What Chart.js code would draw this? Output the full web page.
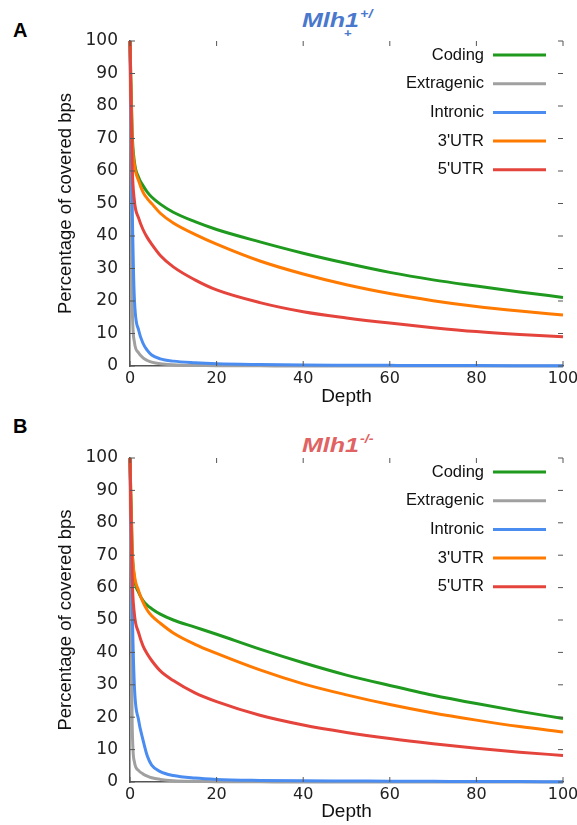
<!DOCTYPE html>
<html>
<head>
<meta charset="utf-8">
<script src="https://cdn.jsdelivr.net/npm/chart.js@4.4.1/dist/chart.umd.min.js"></script>
<style>
  body { margin: 0; background: #fff; width: 577px; height: 825px; position: relative; overflow: hidden; font-family: "Liberation Sans", Arial, sans-serif; }
  canvas { position: absolute; left: 0; }
  .panel { position: absolute; font-weight: bold; font-size: 20px; line-height: 20px; color: #000; }
  .title { position: absolute; font-weight: bold; font-style: italic; font-size: 20px; line-height: 20px; white-space: nowrap; transform: scaleX(1.25); transform-origin: left top; }
  .sup { position: absolute; font-weight: bold; font-style: italic; font-size: 12px; line-height: 12px; white-space: nowrap; transform: scaleX(1.2); transform-origin: left top; }
</style>
</head>
<body>
<div class="panel" style="left:13px; top:20px;">A</div>
<div class="title" style="left:302px; top:10px; color:#4a78cc;">Mlh1</div>
<div class="sup" style="left:360px; top:8px; color:#4a78cc;">+/</div>
<div class="sup" style="left:344px; top:27px; color:#4a78cc; font-style:normal; font-size:11px;">+</div>
<div class="panel" style="left:13px; top:416px;">B</div>
<div class="title" style="left:302px; top:435px; color:#e06262;">Mlh1</div>
<div class="sup" style="left:360px; top:433px; color:#e06262;">-/-</div>
<canvas id="chartA" width="577" height="412" style="top:0px;"></canvas>
<canvas id="chartB" width="577" height="413" style="top:412px;"></canvas>
<script>
var depth = [0, 0.5, 1, 2, 3, 4, 5, 7, 10, 15, 20, 30, 40, 50, 60, 70, 80, 90, 100];
var labels = ["Coding", "Extragenic", "Intronic", "3'UTR", "5'UTR"];
var colors = ["#1f9a1f", "#a0a0a0", "#4a8cf0", "#ff7a00", "#e4443c"];

// panel A - Mlh1+/+
var codingA     = [100, 72, 63, 58, 55.5, 53.5, 52, 49.8, 47.3, 44.4, 42, 38.2, 34.7, 31.6, 28.8, 26.5, 24.6, 22.8, 21.1];
var extragenicA = [100, 20, 7.5, 4, 2.5, 1.7, 1.2, 0.7, 0.4, 0.2, 0.1, 0.05, 0, 0, 0, 0, 0, 0, 0];
var intronicA   = [100, 50, 21, 11, 7, 4.8, 3.4, 2.2, 1.5, 1.0, 0.7, 0.45, 0.3, 0.25, 0.2, 0.15, 0.12, 0.1, 0.1];
var utr3A       = [100, 70, 62, 57, 53.5, 51.5, 50, 47, 44, 40.5, 37.5, 32.3, 28.3, 25, 22.3, 20.1, 18.3, 16.9, 15.7];
var utr5A       = [100, 62, 51, 45.5, 42, 39.5, 37.5, 34, 30.5, 26.5, 23.4, 19.5, 16.7, 14.8, 13.2, 11.8, 10.6, 9.7, 9.0];

// panel B - Mlh1-/-
var codingB     = [100, 72, 63, 58.5, 56, 54.5, 53.5, 51.8, 50, 47.8, 45.6, 41, 36.8, 33, 29.8, 26.8, 24.2, 21.8, 19.6];
var extragenicB = [100, 18, 6.3, 3.5, 2.5, 1.8, 1.3, 0.8, 0.4, 0.2, 0.1, 0.05, 0, 0, 0, 0, 0, 0, 0];
var intronicB   = [100, 55, 30, 19, 13, 8, 5.2, 3.2, 2, 1.2, 0.8, 0.5, 0.35, 0.3, 0.25, 0.2, 0.15, 0.12, 0.1];
var utr3B       = [100, 72, 64, 59, 55.5, 53, 51.3, 49, 46, 42.5, 39.7, 34.6, 30.3, 26.9, 23.9, 21.3, 19.1, 17.1, 15.4];
var utr5B       = [100, 63, 52, 46, 42, 39.5, 37.5, 34.3, 31.3, 27.5, 24.8, 20.6, 17.6, 15.3, 13.4, 11.8, 10.4, 9.2, 8.2];

var drawOrder = [2, 4, 3, 1, 0];

function toPoints(vals) {
  let pts = [];
  for (let i = 0; i < depth.length; i++) {
    pts.push({ x: depth[i], y: vals[i] });
  }
  return pts;
}

// legend inside the plot (label left, line right) + inward tick marks
const decor = {
  id: 'decor',
  afterDraw(chart) {
    const ctx = chart.ctx;
    const a = chart.chartArea;
    const xs = chart.scales.x;
    const ys = chart.scales.y;
    ctx.save();
    ctx.strokeStyle = '#555';
    ctx.lineWidth = 1;
    ctx.beginPath();
    xs.ticks.forEach(t => {
      let px = xs.getPixelForValue(t.value);
      ctx.moveTo(px, a.bottom); ctx.lineTo(px, a.bottom - 5);
      ctx.moveTo(px, a.top); ctx.lineTo(px, a.top + 5);
    });
    ys.ticks.forEach(t => {
      let py = ys.getPixelForValue(t.value);
      ctx.moveTo(a.left, py); ctx.lineTo(a.left + 5, py);
      ctx.moveTo(a.right, py); ctx.lineTo(a.right - 5, py);
    });
    ctx.stroke();

    ctx.font = '16.5px "Liberation Sans", Arial, sans-serif';
    ctx.textAlign = 'right';
    ctx.textBaseline = 'middle';
    chart.data.datasets.forEach((ds, i) => {
      let y = a.top + 14 + i * 28.7;
      ctx.fillStyle = '#111';
      ctx.fillText(ds.label, a.right - 79, y);
      ctx.strokeStyle = ds.borderColor;
      ctx.lineWidth = 3;
      ctx.beginPath();
      ctx.moveTo(a.right - 70, y);
      ctx.lineTo(a.right - 17, y);
      ctx.stroke();
    });
    ctx.restore();
  }
};

function makeChart(id, series, padTop, padBottom, xHeight) {
  let datasets = [];
  for (let i = 0; i < series.length; i++) {
    datasets.push({
      label: labels[i],
      data: toPoints(series[i]),
      borderColor: colors[i],
      borderWidth: 3,
      pointRadius: 0,
      cubicInterpolationMode: 'monotone',
      clip: 3,
      order: drawOrder[i]
    });
  }
  return new Chart(document.getElementById(id), {
    type: 'line',
    data: { datasets: datasets },
    plugins: [decor],
    options: {
      responsive: false,
      animation: false,
      events: [],
      layout: { padding: { left: 51, right: 14, top: padTop, bottom: padBottom } },
      scales: {
        x: {
          type: 'linear',
          min: 0,
          max: 100,
          ticks: { stepSize: 20, color: '#222', padding: 3, maxRotation: 0,
                   font: { family: '"DejaVu Sans", sans-serif', size: 16 } },
          grid: { display: false, drawTicks: false },
          border: { display: true, color: '#555', width: 1.5 },
          title: { display: true, text: 'Depth', color: '#111', padding: { top: 0, bottom: 2 },
                   font: { family: '"Liberation Sans", Arial, sans-serif', size: 19 } },
          afterFit: function(s) { s.height = xHeight; s.paddingLeft = 0; s.paddingRight = 0; }
        },
        y: {
          min: 0,
          max: 100,
          ticks: { stepSize: 10, color: '#222', padding: 12,
                   font: { family: '"DejaVu Sans", sans-serif', size: 17 } },
          grid: { display: false, drawTicks: false },
          border: { display: true, color: '#555', width: 1.5 },
          title: { display: true, text: 'Percentage of covered bps', color: '#111',
                   font: { family: '"Liberation Sans", Arial, sans-serif', size: 18.5 } },
          afterFit: function(s) { s.width = 79; s.paddingTop = 0; s.paddingBottom = 0; }
        }
      },
      plugins: {
        legend: { display: false },
        tooltip: { enabled: false }
      }
    }
  });
}

makeChart('chartA', [codingA, extragenicA, intronicA, utr3A, utr5A], 41, 2, 44);
makeChart('chartB', [codingB, extragenicB, intronicB, utr3B, utr5B], 46, 0, 43);
</script>
</body>
</html>
